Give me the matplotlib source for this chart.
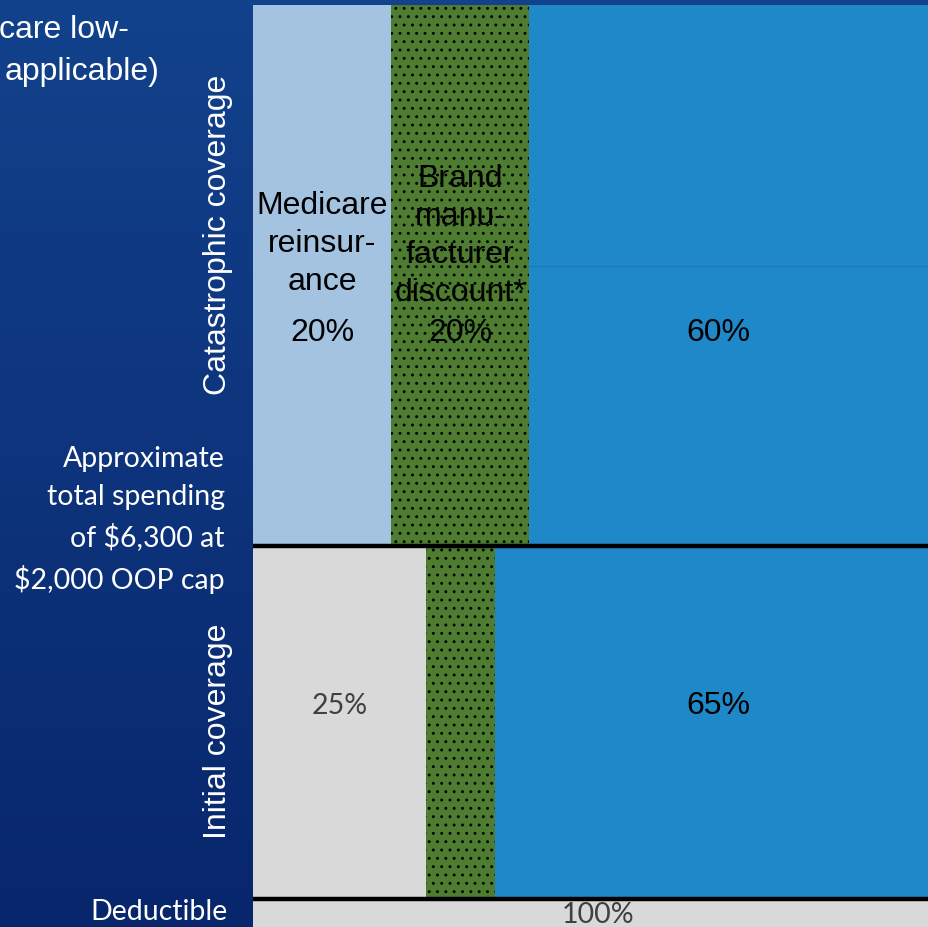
import numpy as np
import matplotlib
matplotlib.use("Agg")
import matplotlib.pyplot as plt

plt.rcParams['hatch.color'] = 'black'
plt.rcParams['hatch.linewidth'] = 0.9

# spending phases, bottom to top
phases = ["Deductible", "Initial coverage", "Catastrophic coverage"]
phase_height = [28, 353, 541]   # visual height of each phase band

# who pays what share in each phase (percent)
deductible_parts = [("Enrollee", 100)]
initial_parts = [("Enrollee", 25), ("Manufacturer", 10), ("Plan", 65)]
catastrophic_parts = [("Medicare", 20), ("Manufacturer", 20), ("Plan", 60)]

part_colors = {
    "Enrollee": "#d9d9d9",
    "Manufacturer": "#4e7d31",
    "Plan": "#1f88c9",
    "Medicare": "#a4c3e0",
}

W, H = 929, 927
fig = plt.figure(figsize=(W / 100, H / 100), dpi=100)

# dark blue gradient background
bg = fig.add_axes([0, 0, 1, 1])
top = np.array([0x12, 0x42, 0x8c]) / 255
bot = np.array([0x08, 0x26, 0x6c]) / 255
t = np.linspace(0, 1, 256)[:, None]
grad = top[None, :] * (1 - t) + bot[None, :] * t
bg.imshow(grad[:, None, :], aspect='auto', extent=[0, 1, 0, 1])
bg.set_xlim(0, 1)
bg.set_ylim(0, 1)
bg.axis('off')

# the bar runs a little past the right edge of the picture
ax = fig.add_axes([253 / W, 0, 690 / W, 922 / H])
bottoms = np.concatenate([[0], np.cumsum(phase_height)[:-1]])
all_parts = [deductible_parts, initial_parts, catastrophic_parts]

for parts, b, h in zip(all_parts, bottoms, phase_height):
    left = 0
    for name, share in parts:
        ax.bar(left, h, width=share, bottom=b, align='edge',
               color=part_colors[name], linewidth=0,
               hatch='..' if name == "Manufacturer" else None)
        left += share

# phase separators
for b in bottoms[1:]:
    ax.axhline(b, color='black', lw=3.2, zorder=5)

# faint split line inside the plan share of catastrophic
ax.hlines(bottoms[2] + 280, 40, 100, color='#1a78b5', lw=0.8, zorder=4)

ax.set_xlim(0, 100)
ax.set_ylim(0, sum(phase_height))
ax.axis('off')

arial = 'Liberation Sans'
calib = 'Lato'
fs = 23
fs_c = 20.5

# catastrophic labels
cb = bottoms[2]
ax.text(10, cb + 302, "Medicare\nreinsur-\nance", ha='center', va='center',
        fontsize=fs, family=arial, linespacing=1.36)
ax.text(30, cb + 310, "Brand\nmanu-\nfacturer\ndiscount*", ha='center', va='center',
        fontsize=fs, family=arial, linespacing=1.35)
cat_left = np.cumsum([0] + [s for _, s in catastrophic_parts[:-1]])
for (name, share), l in zip(catastrophic_parts, cat_left):
    xc = l + share / 2 if name != "Plan" else 67.5
    ax.text(xc, cb + 213, f"{share}%", ha='center', va='center',
            fontsize=fs, family=arial)

# initial coverage labels
ib = bottoms[1]
ini_left = np.cumsum([0] + [s for _, s in initial_parts[:-1]])
for (name, share), l in zip(initial_parts, ini_left):
    if name == "Manufacturer":
        continue
    if name == "Enrollee":
        ax.text(l + share / 2, ib + 193, f"{share}%", ha='center', va='center',
                fontsize=fs_c, family=calib, color='#404040')
    else:
        ax.text(l + share / 2, ib + 193, f"{share}%", ha='center', va='center',
                fontsize=fs, family=arial)

ax.text(50, 12, f"{deductible_parts[0][1]}%", ha='center', va='center',
        fontsize=fs_c, family=calib, color='#404040')

# left side labels
fig.text(218 / W, 1 - 235 / H, phases[2], rotation=90, ha='center', va='center',
         color='white', fontsize=fs, family=arial)
fig.text(218 / W, 1 - 731 / H, phases[1], rotation=90, ha='center', va='center',
         color='white', fontsize=fs, family=arial)
fig.text(225 / W, 1 - 520 / H, "Approximate\ntotal spending\nof $6,300 at\n$2,000 OOP cap",
         ha='right', va='center', color='white', fontsize=fs_c, family=calib,
         linespacing=1.58, multialignment='right')
fig.text(228 / W, 1 - 912 / H, phases[0], ha='right', va='center',
         color='white', fontsize=fs_c, family=calib)

# cut-off title text at top left
fig.text(129 / W, 1 - 30 / H, "care low-", ha='right', va='center',
         color='white', fontsize=fs, family=arial)
fig.text(160 / W, 1 - 72 / H, "applicable)", ha='right', va='center',
         color='white', fontsize=fs, family=arial)

fig.savefig("out.png", dpi=100)
